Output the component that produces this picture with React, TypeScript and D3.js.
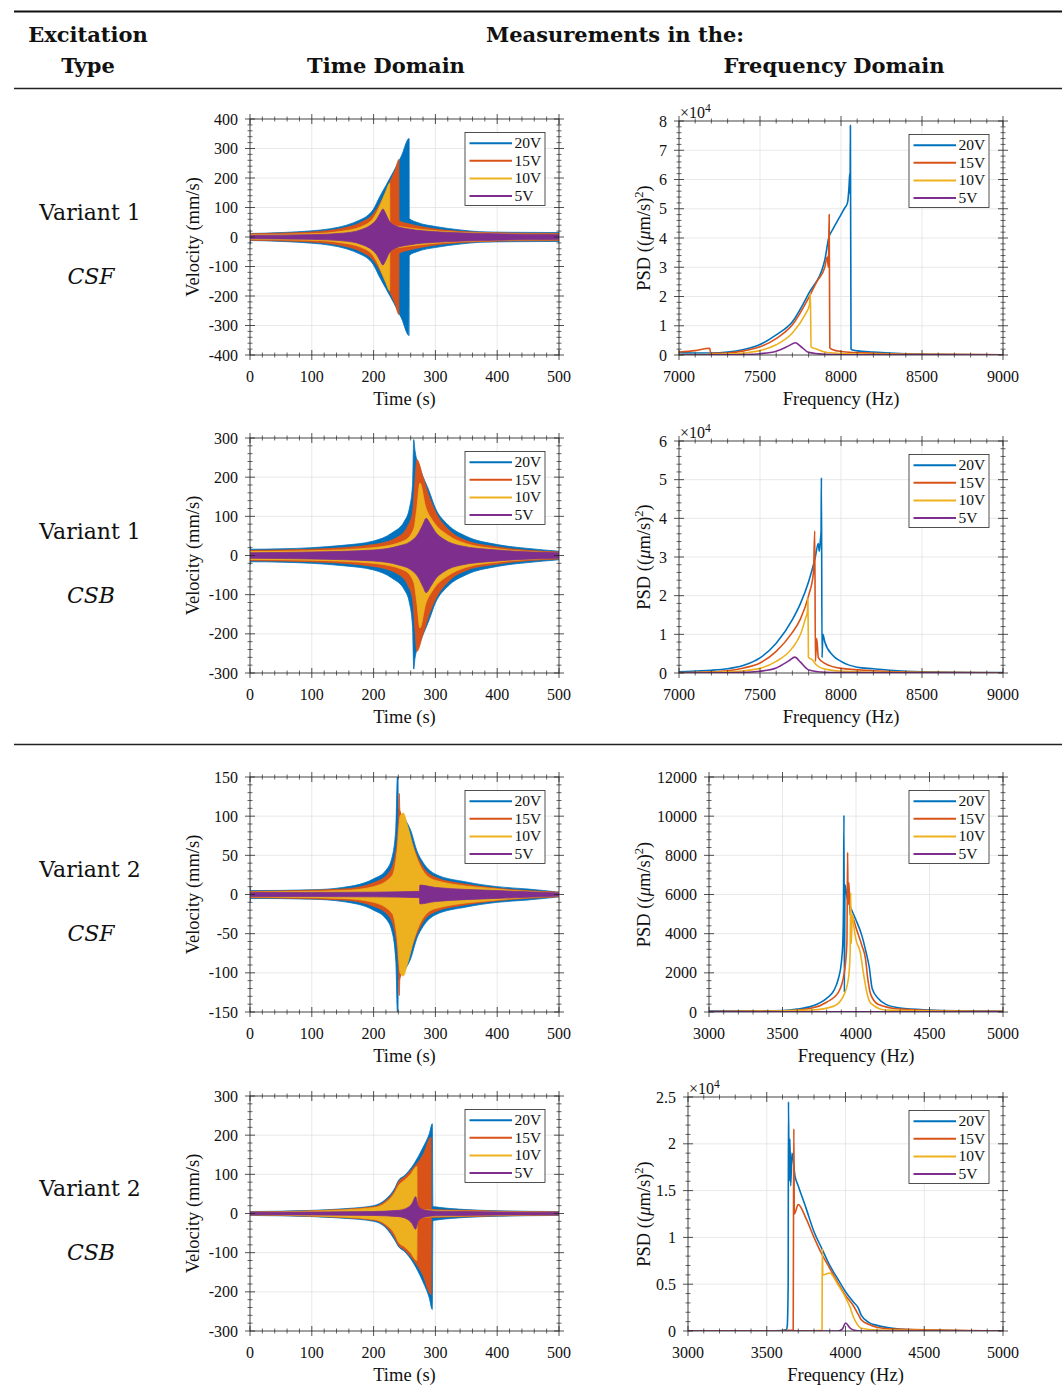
import React from "react";
import * as d3 from "d3";

const SERIES = ["20V", "15V", "10V", "5V"];
const COLORS = ["#0072BD", "#D95319", "#EDB120", "#7E2F8E"];

type Env = [number, number, number][];
type Pt = [number, number][];

// ---------- Time-domain envelopes [t (s), upper (mm/s), lower (mm/s)] ----------
const v1csf20: Env = [[0,25,-25],[1,12,-12],[50,15,-15],[100,21,-21],[130,28,-28],[156,40,-40],[178,58,-58],[188,69,-69],[199,92,-92],[210,137,-137],[220,175,-175],[232,221,-221],[245,275,-275],[257.5,334,-334],[257.7,63,-63],[270,50,-50],[302,35,-35],[340,24,-24],[372,18,-18],[420,16,-16],[500,15,-15]];
const v1csf15: Env = [[0,11,-11],[50,13,-13],[100,17,-17],[150,30,-30],[180,50,-50],[200,80,-80],[212,120,-120],[225,180,-180],[235,228,-228],[241,263,-263],[241.2,55,-55],[258,44,-44],[270,38,-38],[300,27,-27],[350,18,-18],[400,14,-14],[500,12,-12]];
const v1csf10: Env = [[0,8,-8],[100,11,-11],[150,20,-20],[180,35,-35],[200,65,-65],[210,105,-105],[215,130,-130],[220,155,-155],[226,182,-182],[226.2,40,-40],[240,36,-36],[260,30,-30],[300,21,-21],[400,12,-12],[500,9,-9]];
const v1csf5: Env = [[0,6,-6],[100,8,-8],[150,13,-13],[180,25,-25],[195,40,-40],[205,60,-60],[211,82,-82],[215,95,-95],[219,82,-82],[225,55,-55],[235,38,-38],[260,26,-26],[300,18,-18],[400,11,-11],[500,8,-8]];

const v1csb20: Env = [[0,24,-24],[1,16,-16],[50,17,-17],[100,20,-20],[150,26,-26],[200,37,-37],[230,58,-58],[250,88,-88],[258,121,-121],[263,181,-181],[265,296,-290],[267,268,-262],[275,223,-223],[290,164,-164],[300,121,-121],[320,79,-79],[350,49,-49],[400,28,-28],[450,18,-18],[500,11,-11]];
const v1csb15: Env = [[0,13,-13],[100,16,-16],[200,28,-28],[240,48,-48],[255,75,-75],[263,110,-110],[267,190,-190],[270,245,-245],[280,200,-200],[290,150,-150],[300,112,-112],[320,68,-68],[350,38,-38],[400,22,-22],[500,9,-9]];
const v1csb10: Env = [[0,10,-10],[100,12,-12],[200,20,-20],[250,38,-38],[265,68,-68],[270,120,-120],[275,185,-185],[284,125,-125],[296,88,-88],[320,52,-52],[350,30,-30],[400,17,-17],[500,7,-7]];
const v1csb5: Env = [[0,7,-7],[100,9,-9],[200,14,-14],[240,24,-24],[260,36,-36],[272,55,-55],[280,80,-80],[285,95,-95],[292,80,-80],[300,60,-60],[315,40,-40],[340,25,-25],[400,14,-14],[500,7,-7]];

const v2csf20: Env = [[0,10,-10],[1,5,-5],[100,6,-6],[150,9,-9],[200,20,-20],[220,31,-31],[230,48,-48],[236,86,-86],[238.5,150,-150],[239.5,150,-150],[240,110,-110],[250,97,-97],[260,82,-82],[270,56,-56],[280,41,-41],[300,26,-26],[350,16,-16],[400,10,-10],[450,7,-7],[500,3,-3]];
const v2csf15: Env = [[0,4,-4],[150,7,-7],[200,15,-15],[225,28,-28],[235,50,-50],[240,90,-90],[241.5,129,-129],[242.5,108,-108],[255,85,-85],[265,60,-60],[280,35,-35],[300,22,-22],[350,13,-13],[400,8,-8],[500,3,-3]];
const v2csf10: Env = [[0,3,-3],[150,5,-5],[200,10,-10],[230,24,-24],[238,55,-55],[243,100,-100],[248,104,-104],[255,88,-88],[265,58,-58],[280,30,-30],[300,18,-18],[400,7,-7],[500,2,-2]];
const v2csf5: Env = [[0,2.5,-2.5],[200,3,-3],[274,4,-4],[275,12,-12],[300,9,-9],[400,5,-5],[500,2,-2]];

const v2csb20: Env = [[0,5,-5],[100,8,-8],[150,12,-12],[200,20,-20],[220,37,-37],[235,67,-70],[240,84,-84],[250,97,-97],[265,126,-128],[280,169,-175],[290,203,-215],[295,229,-245],[296,18,-18],[300,17,-17],[350,10,-10],[400,7,-7],[500,5,-5]];
const v2csb15: Env = [[0,4,-4],[100,7,-7],[200,17,-17],[220,33,-33],[235,62,-64],[240,80,-80],[250,93,-93],[265,118,-120],[280,150,-158],[293,195,-207],[293.5,10,-10],[350,8,-8],[400,6,-6],[500,4,-4]];
const v2csb10: Env = [[0,3,-3],[100,6,-6],[200,15,-15],[220,28,-28],[235,55,-55],[240,70,-72],[250,85,-85],[260,100,-100],[270,120,-120],[270.5,12,-12],[300,8,-8],[400,5,-5],[500,3,-3]];
const v2csb5: Env = [[0,3,-3],[200,5,-5],[240,8,-8],[255,15,-15],[262,25,-25],[268,43,-40],[272,20,-20],[280,10,-10],[300,6,-6],[500,3,-3]];

// ---------- Frequency-domain PSD [f (Hz), PSD ((µm/s)^2)] ----------
const f1csf20: Pt = [[7000,800],[7100,700],[7200,700],[7300,1000],[7400,1900],[7500,3600],[7600,6900],[7700,11400],[7800,21000],[7900,32500],[7924,40000],[7950,43000],[8000,48000],[8020,50000],[8040,52000],[8050,58000],[8054,62000],[8056,55000],[8058,78500],[8062,2000],[8080,1600],[8100,1400],[8200,1000],[8300,700],[8500,300],[8700,150],[9000,100]];
const f1csf15: Pt = [[7000,1000],[7100,1500],[7190,2300],[7195,600],[7300,700],[7400,1400],[7500,2800],[7600,5600],[7700,10300],[7800,19500],[7850,25000],[7900,30000],[7915,33500],[7922,30000],[7927,48000],[7931,2500],[7950,1800],[8000,1200],[8100,800],[8300,400],[8600,200],[9000,100]];
const f1csf10: Pt = [[7000,100],[7300,300],[7400,700],[7500,1500],[7600,3500],[7700,7500],[7780,14000],[7805,17000],[7811,21000],[7815,2800],[7850,2000],[7900,1000],[8000,500],[8200,200],[9000,50]];
const f1csf5: Pt = [[7000,0],[7300,50],[7400,150],[7500,450],[7600,1300],[7680,3200],[7718,4200],[7750,3000],[7800,900],[7900,250],[8000,100],[8500,30],[9000,0]];

const f1csb20: Pt = [[7000,300],[7100,500],[7200,700],[7300,1100],[7400,2000],[7500,3900],[7600,7700],[7700,13800],[7750,18000],[7800,23600],[7840,29700],[7860,33500],[7866,31500],[7873,34500],[7877,36500],[7879,50500],[7883,4000],[7888,10000],[7900,8000],[7950,4500],[8000,3000],[8100,1500],[8200,1100],[8300,700],[8500,300],[9000,100]];
const f1csb15: Pt = [[7000,100],[7200,300],[7300,600],[7400,1300],[7500,2600],[7600,5600],[7700,10500],[7750,14000],[7800,20000],[7830,26000],[7838,36700],[7842,3000],[7850,9000],[7860,4000],[7900,2500],[8000,1200],[8200,600],[8500,200],[9000,50]];
const f1csb10: Pt = [[7000,50],[7300,300],[7400,600],[7500,1200],[7600,3000],[7700,6500],[7750,10000],[7780,14000],[7793,16000],[7796,19300],[7799,4000],[7820,3500],[7850,2000],[7900,1000],[8000,500],[8200,200],[9000,50]];
const f1csb5: Pt = [[7000,0],[7300,50],[7400,150],[7500,450],[7600,1300],[7680,3200],[7715,4100],[7750,2800],[7800,800],[7900,200],[8000,100],[9000,0]];

const f2csf20: Pt = [[3000,50],[3300,60],[3500,80],[3600,150],[3700,300],[3800,700],[3850,1100],[3880,1700],[3900,2500],[3910,3500],[3915,5500],[3918,10050],[3921,1000],[3925,6500],[3940,5800],[3960,5400],[4000,4700],[4040,3900],[4070,3000],[4090,2300],[4110,1200],[4150,700],[4200,400],[4300,200],[4500,100],[4700,60],[5000,40]];
const f2csf15: Pt = [[3000,20],[3500,50],[3700,200],[3800,500],[3880,1000],[3920,2000],[3938,3500],[3943,8150],[3946,5500],[3952,6600],[3960,5000],[3980,4800],[4000,4300],[4040,3400],[4065,2700],[4080,1700],[4100,900],[4150,400],[4300,150],[4600,60],[5000,30]];
const f2csf10: Pt = [[3000,10],[3700,100],[3850,300],[3920,900],[3950,1800],[3960,3000],[3964,6100],[3968,3500],[3975,5000],[3990,4100],[4000,3700],[4030,3000],[4050,2000],[4080,800],[4100,450],[4200,100],[5000,20]];
const f2csf5: Pt = [[3000,5],[4000,15],[5000,5]];

const f2csb20: Pt = [[3000,0],[3400,20],[3600,60],[3625,150],[3630,500],[3636,5000],[3638,24500],[3642,16000],[3647,20500],[3652,15500],[3660,19000],[3680,16500],[3700,15500],[3750,13100],[3800,10600],[3850,8800],[3900,7000],[3950,5600],[4000,4200],[4050,3100],[4080,2500],[4100,1700],[4150,900],[4200,600],[4300,300],[4500,100],[5000,0]];
const f2csb15: Pt = [[3000,0],[3500,0],[3668,100],[3670,13000],[3672,21600],[3675,12500],[3700,13500],[3750,12000],[3800,10000],[3850,8200],[3900,6700],[3950,5200],[4000,3800],[4050,2700],[4080,1800],[4100,1200],[4150,700],[4200,400],[4300,200],[5000,0]];
const f2csb10: Pt = [[3000,0],[3750,20],[3851,80],[3852,5000],[3853,8800],[3856,6000],[3900,6200],[3950,5000],[4000,3600],[4030,2500],[4050,1500],[4080,600],[4100,300],[4200,100],[5000,0]];
const f2csb5: Pt = [[3000,0],[3950,0],[3980,200],[4000,850],[4030,300],[4050,100],[4100,0],[5000,0]];

// ---------- Ticks ----------
const TIME_X_TICKS = [0, 100, 200, 300, 400, 500];
const F_HI_X_TICKS = [7000, 7500, 8000, 8500, 9000];
const F_LO_X_TICKS = [3000, 3500, 4000, 4500, 5000];
const VEL400_TICKS = [-400, -300, -200, -100, 0, 100, 200, 300, 400];
const VEL300_TICKS = [-300, -200, -100, 0, 100, 200, 300];
const VEL150_TICKS = [-150, -100, -50, 0, 50, 100, 150];
const PSD8_TICKS = [0, 10000, 20000, 30000, 40000, 50000, 60000, 70000, 80000];
const PSD6_TICKS = [0, 10000, 20000, 30000, 40000, 50000, 60000];
const PSD12_TICKS = [0, 2000, 4000, 6000, 8000, 10000, 12000];
const PSD25_TICKS = [0, 5000, 10000, 15000, 20000, 25000];

// ---------- Table texts ----------
const ROW_LABELS = [["Variant 1", "CSF"], ["Variant 1", "CSB"], ["Variant 2", "CSF"], ["Variant 2", "CSB"]];

const AX_FONT = "'Liberation Serif','Times New Roman',serif";
const TXT_FONT = "'DejaVu Serif',serif";
const AX_COLOR = "#262626";
const GRID = "#dfdfdf";

type Box = { l: number; r: number; t: number; b: number };
type PanelDef = {
  id: string;
  kind: "time" | "freq";
  box: Box;
  xDomain: [number, number];
  yDomain: [number, number];
  xTicks: number[];
  yTicks: number[];
  scaled: boolean;
  env?: Env[];
  lines?: Pt[];
};

const ROW_TOPS_T = [119, 438, 777, 1096];
const ROW_BOTS = [355, 673, 1012, 1331];

const PANELS: PanelDef[] = [
  { id: "t1", kind: "time", box: { l: 250, r: 559, t: ROW_TOPS_T[0], b: ROW_BOTS[0] }, xDomain: [0, 500], yDomain: [-400, 400], xTicks: TIME_X_TICKS, yTicks: VEL400_TICKS, scaled: false, env: [v1csf20, v1csf15, v1csf10, v1csf5] },
  { id: "f1", kind: "freq", box: { l: 679, r: 1003, t: 121, b: ROW_BOTS[0] }, xDomain: [7000, 9000], yDomain: [0, 80000], xTicks: F_HI_X_TICKS, yTicks: PSD8_TICKS, scaled: true, lines: [f1csf20, f1csf15, f1csf10, f1csf5] },
  { id: "t2", kind: "time", box: { l: 250, r: 559, t: ROW_TOPS_T[1], b: ROW_BOTS[1] }, xDomain: [0, 500], yDomain: [-300, 300], xTicks: TIME_X_TICKS, yTicks: VEL300_TICKS, scaled: false, env: [v1csb20, v1csb15, v1csb10, v1csb5] },
  { id: "f2", kind: "freq", box: { l: 679, r: 1003, t: 441, b: ROW_BOTS[1] }, xDomain: [7000, 9000], yDomain: [0, 60000], xTicks: F_HI_X_TICKS, yTicks: PSD6_TICKS, scaled: true, lines: [f1csb20, f1csb15, f1csb10, f1csb5] },
  { id: "t3", kind: "time", box: { l: 250, r: 559, t: ROW_TOPS_T[2], b: ROW_BOTS[2] }, xDomain: [0, 500], yDomain: [-150, 150], xTicks: TIME_X_TICKS, yTicks: VEL150_TICKS, scaled: false, env: [v2csf20, v2csf15, v2csf10, v2csf5] },
  { id: "f3", kind: "freq", box: { l: 709, r: 1003, t: 777, b: ROW_BOTS[2] }, xDomain: [3000, 5000], yDomain: [0, 12000], xTicks: F_LO_X_TICKS, yTicks: PSD12_TICKS, scaled: false, lines: [f2csf20, f2csf15, f2csf10, f2csf5] },
  { id: "t4", kind: "time", box: { l: 250, r: 559, t: ROW_TOPS_T[3], b: ROW_BOTS[3] }, xDomain: [0, 500], yDomain: [-300, 300], xTicks: TIME_X_TICKS, yTicks: VEL300_TICKS, scaled: false, env: [v2csb20, v2csb15, v2csb10, v2csb5] },
  { id: "f4", kind: "freq", box: { l: 688, r: 1003, t: 1097, b: ROW_BOTS[3] }, xDomain: [3000, 5000], yDomain: [0, 25000], xTicks: F_LO_X_TICKS, yTicks: PSD25_TICKS, scaled: true, lines: [f2csb20, f2csb15, f2csb10, f2csb5] },
];

function minorTicks(major: number[], domain: [number, number]) {
  const step = (major[1] - major[0]) / 5;
  return d3
    .range(domain[0], domain[1] + step / 10, step)
    .filter((v) => !major.some((m) => Math.abs(m - v) < step / 100));
}

function Legend({ left, top }: { left: number; top: number }) {
  return (
    <g>
      <rect x={left} y={top} width={80} height={73} fill="#fff" stroke={AX_COLOR} strokeWidth={0.8} />
      {SERIES.map((s, i) => {
        const yy = top + 10.7 + i * 17.6;
        return (
          <g key={s}>
            <line x1={left + 4.5} x2={left + 47} y1={yy} y2={yy} stroke={COLORS[i]} strokeWidth={2} />
            <text x={left + 49.5} y={yy + 5} fontSize={15.5} fontFamily={AX_FONT} fill="#111">
              {s}
            </text>
          </g>
        );
      })}
    </g>
  );
}

function Panel({ p }: { p: PanelDef }) {
  const { box } = p;
  const x = d3.scaleLinear().domain(p.xDomain).range([box.l, box.r]);
  const y = d3.scaleLinear().domain(p.yDomain).range([box.b, box.t]);
  const xMinor = minorTicks(p.xTicks, p.xDomain);
  const yMinor = minorTicks(p.yTicks, p.yDomain);
  const area = d3
    .area<[number, number, number]>()
    .x((d) => x(d[0]))
    .y0((d) => y(d[2]))
    .y1((d) => y(d[1]))
    .curve(d3.curveMonotoneX);
  const line = d3
    .line<[number, number]>()
    .x((d) => x(d[0]))
    .y((d) => y(d[1]))
    .curve(d3.curveMonotoneX);
  const yFmt = (v: number) => (p.scaled ? String(v / 10000) : String(v));
  const MJ = 5;
  const MN = 2.5;
  const cy = (box.t + box.b) / 2;
  const cx = (box.l + box.r) / 2;
  const legendLeft = box.r - 14 - 80;
  return (
    <g>
      <defs>
        <clipPath id={`clip-${p.id}`}>
          <rect x={box.l} y={box.t} width={box.r - box.l} height={box.b - box.t} />
        </clipPath>
      </defs>
      {p.xTicks.map((v) => (
        <line key={`gx${v}`} x1={x(v)} x2={x(v)} y1={box.t} y2={box.b} stroke={GRID} strokeWidth={0.7} />
      ))}
      {p.yTicks.map((v) => (
        <line key={`gy${v}`} x1={box.l} x2={box.r} y1={y(v)} y2={y(v)} stroke={GRID} strokeWidth={0.7} />
      ))}
      <g clipPath={`url(#clip-${p.id})`}>
        {p.env &&
          p.env.map((e, i) => (
            <path key={i} d={area(e) || ""} fill={COLORS[i]} stroke={COLORS[i]} strokeWidth={0.8} />
          ))}
        {p.lines &&
          p.lines.map((l, i) => (
            <path key={i} d={line(l) || ""} fill="none" stroke={COLORS[i]} strokeWidth={1.6} strokeLinejoin="round" />
          ))}
      </g>
      <rect x={box.l} y={box.t} width={box.r - box.l} height={box.b - box.t} fill="none" stroke={AX_COLOR} strokeWidth={0.8} />
      {p.xTicks.map((v) => (
        <g key={`tx${v}`}>
          <line x1={x(v)} x2={x(v)} y1={box.b - MJ} y2={box.b + MJ} stroke={AX_COLOR} strokeWidth={0.8} />
          <line x1={x(v)} x2={x(v)} y1={box.t - MJ} y2={box.t + MJ} stroke={AX_COLOR} strokeWidth={0.8} />
        </g>
      ))}
      {xMinor.map((v) => (
        <g key={`mx${v}`}>
          <line x1={x(v)} x2={x(v)} y1={box.b - MN} y2={box.b + MN} stroke={AX_COLOR} strokeWidth={0.7} />
          <line x1={x(v)} x2={x(v)} y1={box.t - MN} y2={box.t + MN} stroke={AX_COLOR} strokeWidth={0.7} />
        </g>
      ))}
      {p.yTicks.map((v) => (
        <g key={`ty${v}`}>
          <line x1={box.l - MJ} x2={box.l + MJ} y1={y(v)} y2={y(v)} stroke={AX_COLOR} strokeWidth={0.8} />
          <line x1={box.r - MJ} x2={box.r + MJ} y1={y(v)} y2={y(v)} stroke={AX_COLOR} strokeWidth={0.8} />
        </g>
      ))}
      {yMinor.map((v) => (
        <g key={`my${v}`}>
          <line x1={box.l - MN} x2={box.l + MN} y1={y(v)} y2={y(v)} stroke={AX_COLOR} strokeWidth={0.7} />
          <line x1={box.r - MN} x2={box.r + MN} y1={y(v)} y2={y(v)} stroke={AX_COLOR} strokeWidth={0.7} />
        </g>
      ))}
      {p.xTicks.map((v) => (
        <text key={`lx${v}`} x={x(v)} y={box.b + 27} textAnchor="middle" fontSize={16} fontFamily={AX_FONT} fill="#111">
          {String(v)}
        </text>
      ))}
      {p.yTicks.map((v) => (
        <text key={`ly${v}`} x={box.l - 12} y={y(v) + 5.5} textAnchor="end" fontSize={16} fontFamily={AX_FONT} fill="#111">
          {yFmt(v)}
        </text>
      ))}
      {p.scaled && (
        <text x={box.l + 1} y={box.t - 3} fontSize={16} fontFamily={AX_FONT} fill="#111">
          ×10<tspan dy={-6} fontSize={11.5}>4</tspan>
        </text>
      )}
      <text x={cx} y={box.b + 50} textAnchor="middle" fontSize={18.5} fontFamily={AX_FONT} fill="#111">
        {p.kind === "time" ? "Time (s)" : "Frequency (Hz)"}
      </text>
      {p.kind === "time" ? (
        <text transform={`translate(${box.l - 51},${cy}) rotate(-90)`} textAnchor="middle" fontSize={18.5} fontFamily={AX_FONT} fill="#111">
          Velocity (mm/s)
        </text>
      ) : (
        <text transform={`translate(650,${cy}) rotate(-90)`} textAnchor="middle" fontSize={18.5} fontFamily={AX_FONT} fill="#111">
          PSD ((<tspan fontStyle="italic">μ</tspan>m/s)<tspan dy={-7} fontSize={12.5}>2</tspan>
          <tspan dy={7}>)</tspan>
        </text>
      )}
      <Legend left={legendLeft} top={box.t + 13.5} />
    </g>
  );
}

export default function App() {
  const rowCenters = [212, 531, 869, 1188];
  return (
    <svg
      width={1064}
      height={1396}
      viewBox="0 0 1064 1396"
      style={{ position: "absolute", left: 0, top: 0, display: "block", background: "#fff" }}
    >
      <rect x={0} y={0} width={1064} height={1396} fill="#fff" />
      <line x1={14} x2={1062} y1={11.5} y2={11.5} stroke="#111" strokeWidth={2} />
      <line x1={14} x2={1062} y1={88.5} y2={88.5} stroke="#222" strokeWidth={1.3} />
      <line x1={14} x2={1062} y1={744.5} y2={744.5} stroke="#222" strokeWidth={1.5} />
      <g fontFamily={TXT_FONT} fontWeight="bold" fontSize={21} fill="#111" textAnchor="middle">
        <text x={88} y={42}>Excitation</text>
        <text x={88} y={73}>Type</text>
        <text x={615} y={42}>Measurements in the:</text>
        <text x={386} y={73}>Time Domain</text>
        <text x={834} y={73}>Frequency Domain</text>
      </g>
      {ROW_LABELS.map((r, i) => (
        <g key={i} fontFamily={TXT_FONT} fontSize={22} fill="#111" textAnchor="middle">
          <text x={90} y={rowCenters[i] + 8}>{r[0]}</text>
          <text x={91} y={rowCenters[i] + 72} fontStyle="italic">{r[1]}</text>
        </g>
      ))}
      {PANELS.map((p) => (
        <Panel key={p.id} p={p} />
      ))}
    </svg>
  );
}
